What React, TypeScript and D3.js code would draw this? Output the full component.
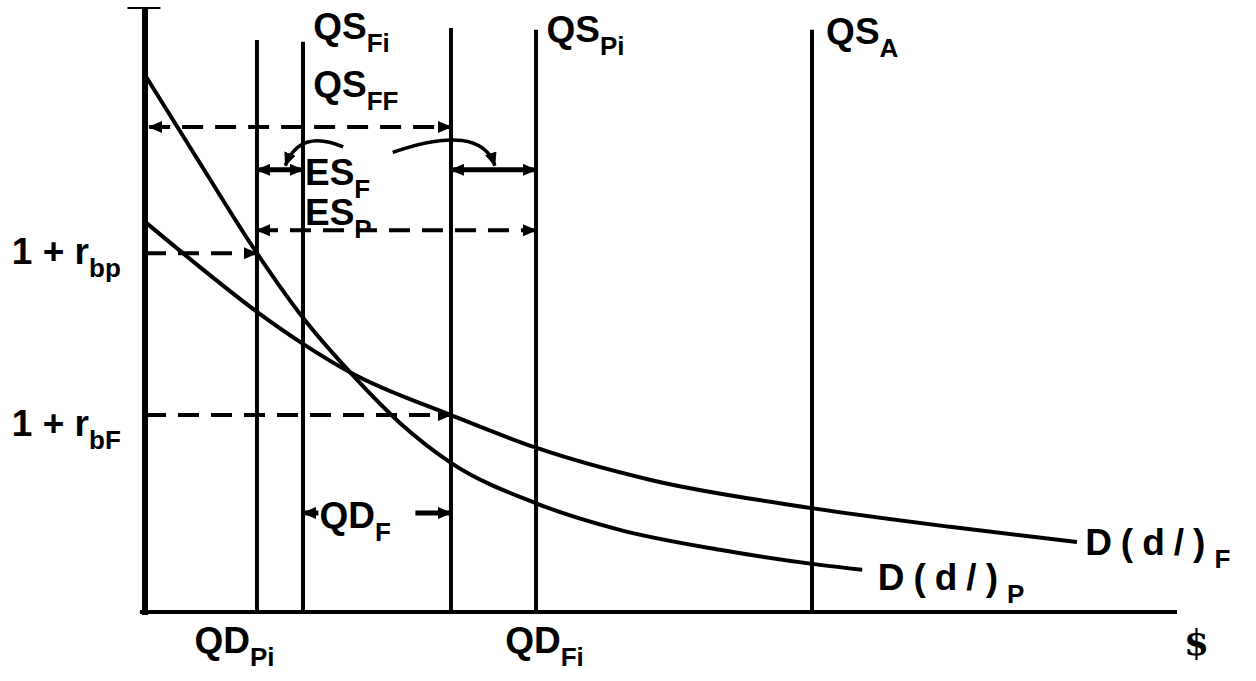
import * as d3 from "d3";

// quantity of deposits (x) vs. 1 + rate (y), both in arbitrary 0..100 units
const verticalQ = [10.85, 15.31, 29.65, 37.89, 64.63];
const verticalTop = [94.7, 94.4, 96.7, 96.4, 96.4];

const demandP: [number, number][] = [
    [0, 88.9], [5.33, 74.3], [10.85, 59.4], [15.31, 48.7], [19.86, 39.7], [24.7, 31.3],
    [29.65, 24.7], [37.89, 18.0], [46, 13.6], [55.7, 10.3], [65.4, 7.8], [69.5, 7.0]
];
const demandF: [number, number][] = [
    [0, 64.6], [5.33, 57.1], [10.85, 49.7], [15.31, 44.4], [19.86, 39.7], [29.65, 32.6],
    [37.89, 27.2], [48.9, 21.9], [64.6, 17.2], [78, 14.1], [90.3, 11.6]
];

// y level, from, to, dashed, arrow at start, arrow at end
const arrowY = [80.3, 73.2, 73.2, 63.2, 59.4, 32.6, 16.4, 16.4];
const arrowFrom = [0.4, 10.85, 29.65, 10.85, 0, 0, 15.31, 26.2];
const arrowTo = [29.65, 15.31, 37.89, 37.89, 10.85, 29.65, 16.8, 29.65];
const arrowDashed = [true, false, false, true, true, true, false, false];
const arrowStart = [true, true, true, true, false, false, true, false];
const arrowEnd = [true, true, true, true, true, true, false, true];

// curved pointers from the ES_F label to the two excess-supply gaps
const pointerArcs: [number, number][][] = [
    [[19.2, 77.0], [15.0, 80.1], [13.6, 73.9]],
    [[24.0, 76.1], [32.5, 81.1], [33.9, 73.9]]
];

const labelMain = ["QS", "QS", "QS", "QS", "ES", "ES", "1 + r", "1 + r", "QD", "QD", "QD", "D(d/)", "D(d/)"];
const labelSub = ["Fi", "FF", "Pi", "A", "F", "P", "bp", "bF", "F", "Pi", "Fi", "F", "P"];
const labelQ = [16.3, 16.3, 38.9, 66.0, 15.5, 15.5, -12.9, -12.9, 16.9, 4.8, 34.9, 91.1, 71.0];
const labelR = [94.9, 85.3, 94.4, 94.0, 70.7, 64.1, 57.6, 29.1, 13.9, -6.8, -6.8, 9.4, 3.6];

const xScale = d3.scaleLinear().domain([0, 100]).range([145, 1177]);
const yScale = d3.scaleLinear().domain([0, 100]).range([612, 8]);

const font = "'Liberation Sans', Arial, sans-serif";

export default function App() {
    const line = d3.line<[number, number]>()
        .x(d => xScale(d[0]))
        .y(d => yScale(d[1]))
        .curve(d3.curveMonotoneX);

    const arc = (pts: [number, number][]) => {
        const p = d3.path();
        p.moveTo(xScale(pts[0][0]), yScale(pts[0][1]));
        p.quadraticCurveTo(xScale(pts[1][0]), yScale(pts[1][1]), xScale(pts[2][0]), yScale(pts[2][1]));
        return p.toString();
    };

    return <svg width={1256} height={681} viewBox="0 0 1256 681"
                style={{position: "absolute", left: 0, top: 0, display: "block", background: "#fff"}}>
        <defs>
            <marker id="head" viewBox="0 0 14 12" refX={13} refY={6} markerWidth={14} markerHeight={12}
                    markerUnits="userSpaceOnUse" orient="auto-start-reverse">
                <path d="M0,0 L14,6 L0,12 Z" fill="#000"/>
            </marker>
        </defs>

        {/* axes */}
        <line x1={xScale(0)} x2={xScale(0)} y1={yScale(100)} y2={yScale(-0.5)} stroke="#000" strokeWidth={6}/>
        <line x1={xScale(-1.7)} x2={xScale(1.5)} y1={yScale(100)} y2={yScale(100)} stroke="#000" strokeWidth={2}/>
        <line x1={xScale(-0.5)} x2={xScale(100)} y1={yScale(0)} y2={yScale(0)} stroke="#000" strokeWidth={4}/>

        {/* vertical supply / demand quantities */}
        {verticalQ.map((q, i) =>
            <line key={i} x1={xScale(q)} x2={xScale(q)} y1={yScale(verticalTop[i])} y2={yScale(0)}
                  stroke="#000" strokeWidth={4}/>)}

        {/* demand curves */}
        <path d={line(demandP) ?? ""} fill="none" stroke="#000" strokeWidth={4}/>
        <path d={line(demandF) ?? ""} fill="none" stroke="#000" strokeWidth={4}/>

        {/* arrows */}
        {arrowY.map((y, i) =>
            <line key={i} x1={xScale(arrowFrom[i])} x2={xScale(arrowTo[i])} y1={yScale(y)} y2={yScale(y)}
                  stroke="#000" strokeWidth={arrowDashed[i] ? 4 : 5}
                  strokeDasharray={arrowDashed[i] ? "21 12" : undefined}
                  markerStart={arrowStart[i] ? "url(#head)" : undefined}
                  markerEnd={arrowEnd[i] ? "url(#head)" : undefined}/>)}
        {pointerArcs.map((pts, i) =>
            <path key={i} d={arc(pts)} fill="none" stroke="#000" strokeWidth={3.5} markerEnd="url(#head)"/>)}

        {/* labels */}
        {labelMain.map((t, i) =>
            <text key={i} x={xScale(labelQ[i])} y={yScale(labelR[i])} fontFamily={font} fontWeight="bold"
                  fontSize={37} fill="#000">
                <tspan letterSpacing={t.startsWith("D(") ? 9 : 0}>{t}</tspan>
                <tspan fontSize={26} dy={13}>{labelSub[i]}</tspan>
            </text>)}
        <text x={xScale(101.9)} y={yScale(-7.1)} textAnchor="middle" fontFamily="'DejaVu Serif', serif"
              fontWeight="bold" fontSize={36} fill="#000">$</text>
    </svg>;
}
